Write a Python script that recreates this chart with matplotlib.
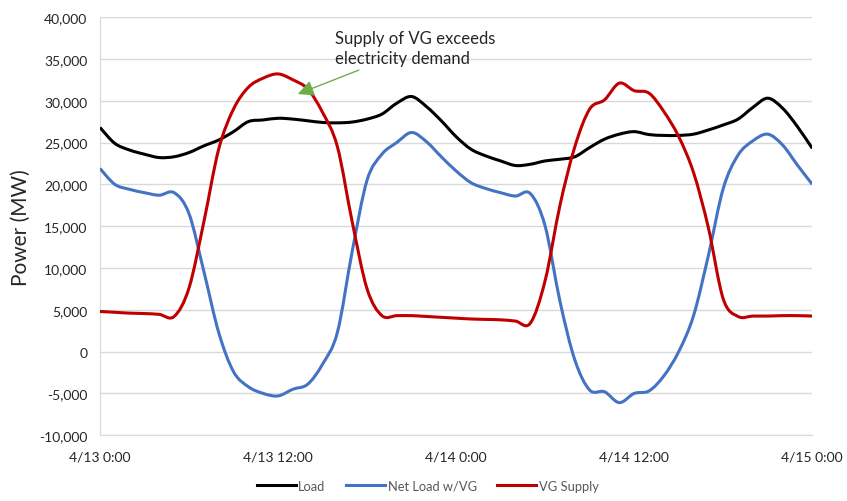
import pandas as pd
import matplotlib.dates as mdates
from matplotlib import pyplot as plt
from matplotlib.path import Path
from matplotlib.patches import PathPatch
from matplotlib.ticker import MultipleLocator, FuncFormatter

# hourly values, 4/13 0:00 .. 4/15 0:00
hours = pd.date_range("2024-04-13 00:00", "2024-04-15 00:00", freq="h")

load = [26800, 24900, 24100, 23600, 23200, 23300, 23800, 24600, 25300, 26300,
        27500, 27700, 27900, 27800, 27600, 27400, 27350, 27450, 27800, 28400,
        29700, 30500, 29300, 27600, 25700, 24200, 23400, 22800, 22250, 22400,
        22800, 23000, 23300, 24400, 25400, 26000, 26300, 25950, 25850, 25850,
        26000, 26500, 27100, 27800, 29200, 30300, 29100, 26900, 24300]

net_load = [21900, 20000, 19400, 19000, 18700, 19000, 16500, 9600, 2300, -2400,
            -4200, -5000, -5300, -4500, -3900, -1500, 2300, 12000, 20500, 23600,
            25000, 26200, 25100, 23300, 21600, 20200, 19500, 19000, 18600, 18900,
            15000, 6000, -1000, -4600, -4800, -6100, -5000, -4700, -2900, 0,
            4300, 11500, 19500, 23500, 25200, 26000, 24700, 22300, 20000]

vg_supply = [4800, 4700, 4600, 4550, 4450, 4200, 7600, 15500, 24200, 29000,
             31600, 32700, 33200, 32500, 31400, 28600, 24500, 15500, 7500, 4300,
             4300, 4300, 4200, 4100, 4000, 3900, 3850, 3800, 3650, 3400,
             8500, 17500, 24500, 29000, 30100, 32100, 31200, 30900, 28700, 25700,
             21400, 14800, 6300, 4200, 4250, 4250, 4300, 4300, 4250]

tick_times = pd.date_range("2024-04-13 00:00", "2024-04-15 00:00", freq="12h")
tick_labels = ["4/13 0:00", "4/13 12:00", "4/14 0:00", "4/14 12:00", "4/15 0:00"]


# Excel-style smoothed line: bezier through the data points
def smooth_line(ax, x, y, color, label):
    x = list(mdates.date2num(x))
    n = len(x)
    verts = [(x[0], y[0])]
    codes = [Path.MOVETO]
    for i in range(n - 1):
        a = max(i - 1, 0)
        b = min(i + 2, n - 1)
        c1 = (x[i] + (x[i + 1] - x[a]) / 6, y[i] + (y[i + 1] - y[a]) / 6)
        c2 = (x[i + 1] - (x[b] - x[i]) / 6, y[i + 1] - (y[b] - y[i]) / 6)
        verts += [c1, c2, (x[i + 1], y[i + 1])]
        codes += [Path.CURVE4] * 3
    ax.add_patch(PathPatch(Path(verts, codes), fill=False, edgecolor=color,
                           lw=2.2, joinstyle='round', capstyle='butt', zorder=3))
    ax.plot([], [], color=color, lw=2.2, label=label)


plt.rcParams['font.family'] = ['Lato', 'DejaVu Sans']

fig = plt.figure(figsize=(8.47, 5.02), dpi=100)
ax = fig.add_axes([0.118, 0.131, 0.841, 0.833])

smooth_line(ax, hours, load, 'black', 'Load')
smooth_line(ax, hours, net_load, '#4472C4', 'Net Load w/VG')
smooth_line(ax, hours, vg_supply, '#C00000', 'VG Supply')

ax.set_xlim(hours[0], hours[-1])
ax.set_ylim(-10000, 40000)
ax.set_xticks(tick_times)
ax.set_xticklabels(tick_labels)
ax.yaxis.set_major_locator(MultipleLocator(5000))
ax.yaxis.set_major_formatter(FuncFormatter(lambda v, p: f"{int(v):,}"))
ax.tick_params(length=0, labelsize=10, colors='#262626', pad=9)
ax.tick_params(axis='x', pad=11)

ax.grid(axis='y', color='#d9d9d9', lw=1)
for s in ['top', 'right']:
    ax.spines[s].set_visible(False)
ax.spines['left'].set_color('#d9d9d9')
ax.spines['bottom'].set_color('#d9d9d9')

ax.set_ylabel("Power (MW)", fontsize=15, color='#262626', labelpad=6)

# annotation
ax.annotate("Supply of VG exceeds\nelectricity demand",
            xy=(pd.Timestamp("2024-04-13 13:20"), 30800),
            xytext=(pd.Timestamp("2024-04-13 15:50"), 36300),
            fontsize=12, color='#262626', va='center', ha='left',
            linespacing=1.35,
            arrowprops=dict(arrowstyle='-|>,head_length=0.8,head_width=0.4',
                            color='#70AD47', lw=1, shrinkA=2, shrinkB=0))

fig.legend(loc='lower center', bbox_to_anchor=(0.505, -0.005), ncol=3,
           frameon=False, fontsize=9.3, labelcolor='#595959',
           handlelength=3.0, columnspacing=1.6, handletextpad=0.2)

fig.savefig("out.png", dpi=100)
